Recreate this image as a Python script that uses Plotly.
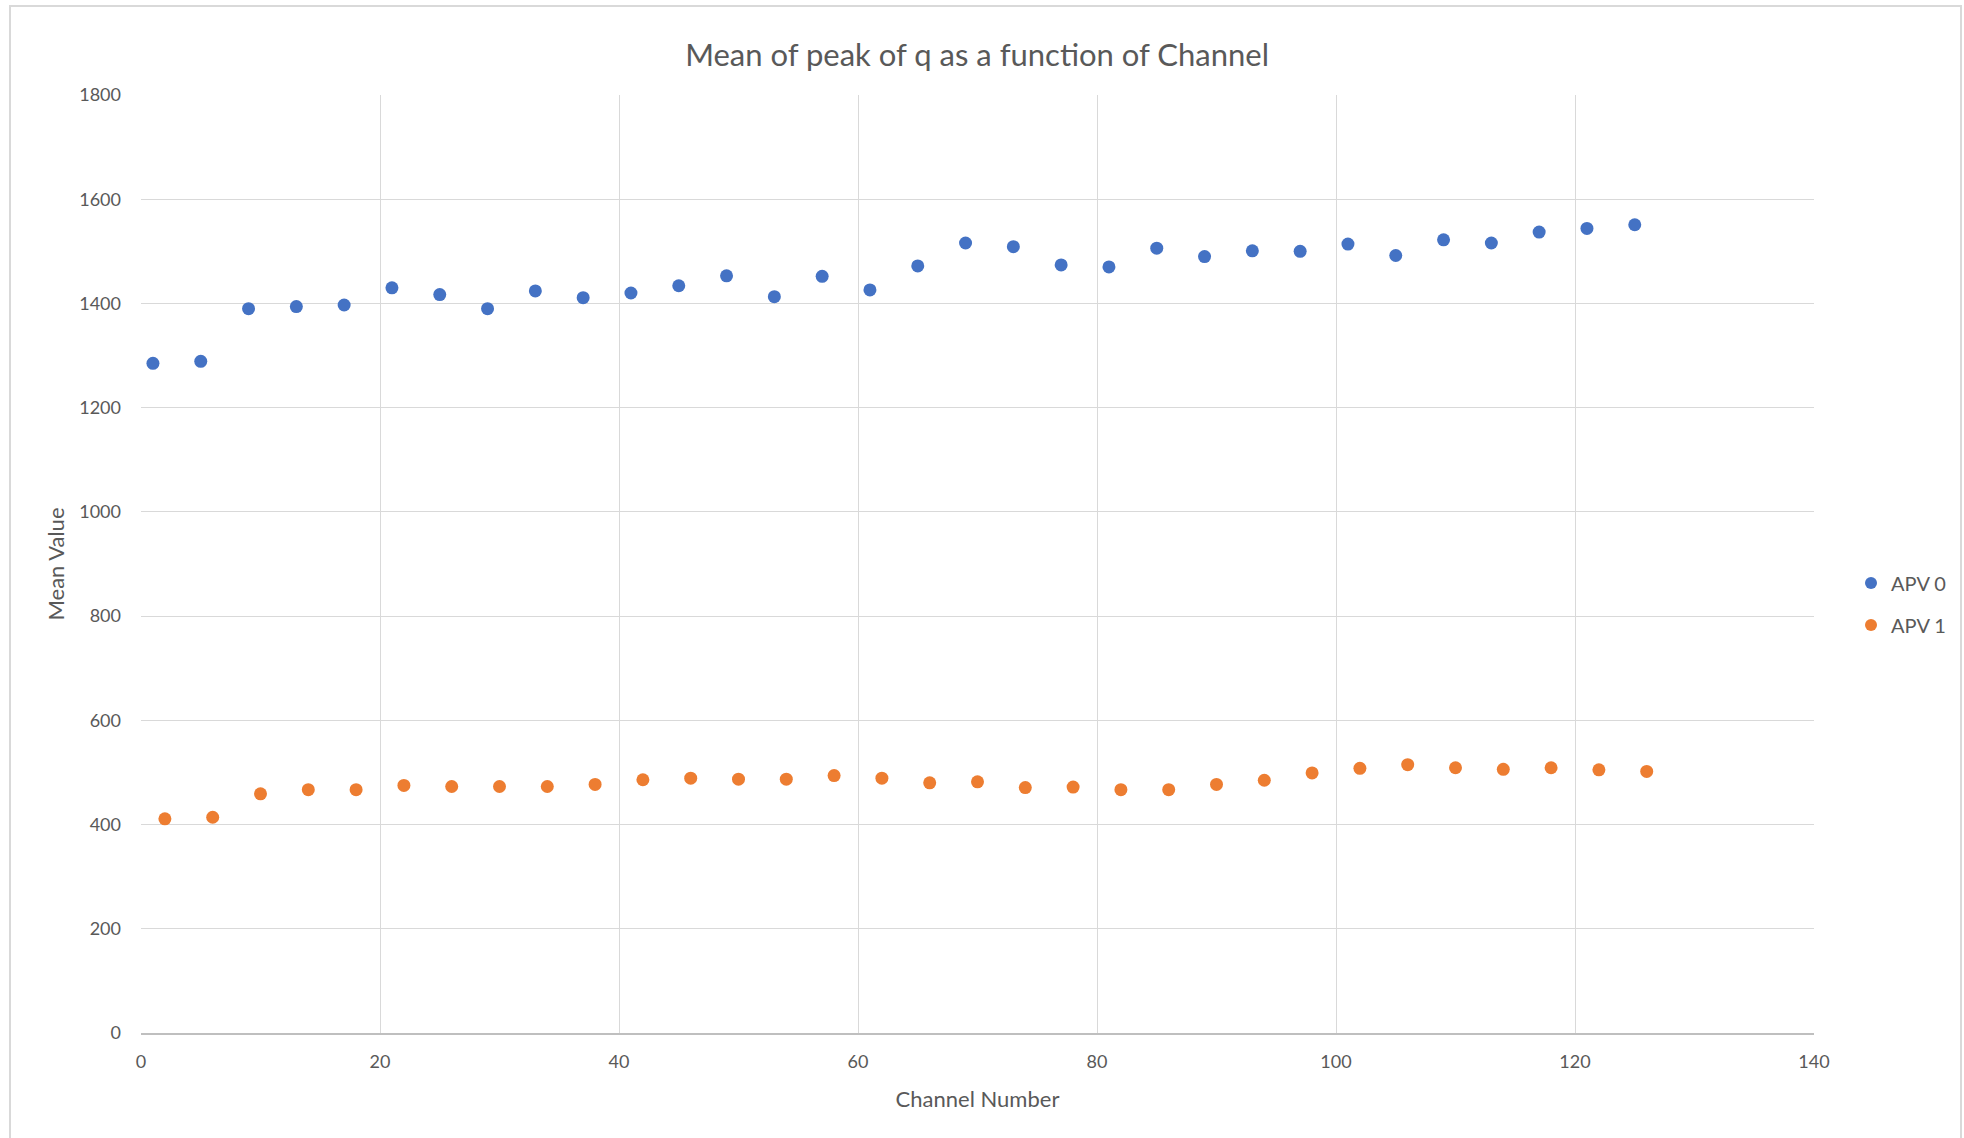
import plotly.graph_objects as go

# Data
apv0_channel = [1, 5, 9, 13, 17, 21, 25, 29, 33, 37, 41, 45, 49, 53, 57, 61, 65, 69, 73, 77, 81,
                85, 89, 93, 97, 101, 105, 109, 113, 117, 121, 125]
apv0_mean = [1285, 1289, 1390, 1394, 1397, 1430, 1417, 1390, 1424, 1411, 1420, 1434, 1453, 1413,
             1452, 1426, 1472, 1516, 1509, 1474, 1470, 1506, 1490, 1501, 1500, 1514, 1492, 1522,
             1516, 1537, 1544, 1551]

apv1_channel = [2, 6, 10, 14, 18, 22, 26, 30, 34, 38, 42, 46, 50, 54, 58, 62, 66, 70, 74, 78, 82,
                86, 90, 94, 98, 102, 106, 110, 114, 118, 122, 126]
apv1_mean = [411, 414, 459, 467, 467, 475, 473, 473, 473, 477, 486, 489, 487, 487, 494, 489, 480,
             482, 471, 472, 467, 467, 477, 485, 499, 508, 515, 509, 506, 509, 505, 502]

x_ticks = [0, 20, 40, 60, 80, 100, 120, 140]
y_ticks = [0, 200, 400, 600, 800, 1000, 1200, 1400, 1600, 1800]

FONT = "Lato, 'Open Sans', sans-serif"
TEXT = "#595959"
GRID = "#d9d9d9"

fig = go.Figure()
fig.add_trace(go.Scatter(x=apv0_channel, y=apv0_mean, mode="markers", name="APV 0",
                         legendgroup="apv0",
                         marker=dict(color="#4472C4", size=13)))
fig.add_trace(go.Scatter(x=apv1_channel, y=apv1_mean, mode="markers", name="APV 1",
                         legendgroup="apv1",
                         marker=dict(color="#ED7D31", size=13)))

fig.update_layout(
    width=1964, height=1138,
    paper_bgcolor="white", plot_bgcolor="white",
    margin=dict(l=141, r=150, t=95, b=105, autoexpand=False),
    font=dict(family=FONT, color=TEXT, size=18),
    title=dict(text="Mean of peak of q as a function of Channel", x=0.4975, xanchor="center",
               y=1 - 55 / 1138, yanchor="middle",
               font=dict(size=31, color=TEXT, family=FONT)),
    showlegend=True,
    legend=dict(xref="container", yref="container", x=1851 / 1964, y=1 - 604 / 1138,
                xanchor="left", yanchor="middle", font=dict(size=20, color=TEXT),
                itemsizing="constant", tracegroupgap=13, bgcolor="rgba(0,0,0,0)"),
    xaxis=dict(range=[0, 140], tickvals=x_ticks, showgrid=True, gridcolor=GRID, gridwidth=1,
               zeroline=False, showline=True, linecolor="#bfbfbf", linewidth=2,
               ticks="", ticklabelstandoff=11, automargin=False,
               title=dict(text="Channel Number", font=dict(size=22, color=TEXT), standoff=21)),
    yaxis=dict(range=[0, 1800], tickvals=y_ticks, showgrid=True, gridcolor=GRID, gridwidth=1,
               zeroline=False, showline=False, ticks="", ticklabelstandoff=19, automargin=False,
               title=dict(text="Mean Value", font=dict(size=22, color=TEXT), standoff=8)),
)

# Outer chart-area frame (left, top, right edges visible; bottom runs off the page)
fig.add_shape(type="rect", xref="paper", yref="paper",
              x0=(10 - 141) / 1673, x1=(1961 - 141) / 1673,
              y0=(1033 - 1160) / 938, y1=(1033 - 6) / 938,
              line=dict(color="#d9d9d9", width=2), fillcolor="rgba(0,0,0,0)", layer="below")

fig.write_html("out.html", config={"displayModeBar": False},
               post_script="document.body.style.margin='0';document.body.style.overflow='hidden';")
